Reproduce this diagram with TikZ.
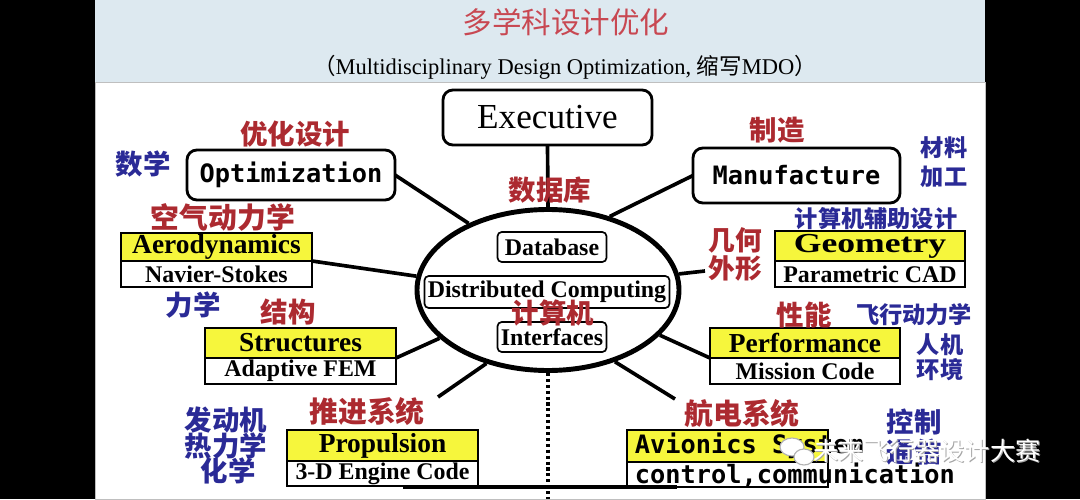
\documentclass[tikz,border=0pt]{standalone}
\usepackage{fontspec}
\usepackage{graphicx}
\setmainfont{Liberation Serif}
\setmonofont{DejaVu Sans Mono}
\newfontfamily\cjk{Noto Sans CJK SC}
\usetikzlibrary{positioning,shapes.geometric}
\definecolor{labred}{RGB}{172,42,48}
\definecolor{labblue}{RGB}{42,42,150}
\definecolor{titlered}{RGB}{200,72,82}
\definecolor{bandblue}{RGB}{221,233,240}
\definecolor{boxyellow}{RGB}{246,246,60}
\newcommand{\fsz}[1]{\fontsize{#1}{#1}\selectfont}
\tikzset{
  redlbl/.style={text=labred,font=\cjk\bfseries\fsz{19.5}},
  bluelbl/.style={text=labblue,font=\cjk\bfseries\fsz{19.5}},
  boxsize/.style 2 args={minimum width=#1*0.025cm,minimum height=#2*0.025cm},
  roundbox/.style={draw,line width=2pt,rounded corners=7pt,inner sep=0pt,outer sep=0pt,font=\ttfamily\bfseries\fsz{18}},
  topbox/.style={draw,line width=1.6pt,fill=boxyellow,inner sep=0pt,outer sep=0pt,font=\bfseries\fsz{19.5}},
  lowbox/.style={draw,line width=1.6pt,fill=white,inner sep=0pt,outer sep=0pt,font=\bfseries\fsz{17}},
  hubbox/.style={draw,line width=1.2pt,rounded corners=3pt,inner sep=0pt,outer sep=0pt,font=\bfseries\fsz{17}},
  spoke/.style={line width=2.6pt}
}
\begin{document}
\begin{tikzpicture}[x=0.025cm,y=-0.025cm]
\fill[black] (0,0) rectangle (1080,499);
\fill[bandblue] (95,0) rectangle (985,82);
\filldraw[fill=white,draw=gray!50] (95,82) rectangle (985,499);
\useasboundingbox (0,0) rectangle (1080,499);
\node[text=titlered,font=\cjk\fsz{21}] (title) at (566,22) {多学科设计优化};
\node[font=\fsz{16}] (subtitle) at (565,67) {{\cjk （}Multidisciplinary Design Optimization, {\cjk 缩写}MDO{\cjk ）}};

% hub in the middle
\node[ellipse,draw,line width=3.5pt,boxsize={262}{161},inner sep=0pt] (hub) at (548,290) {};
\node[hubbox,boxsize={109}{30}] (db) at (552,247) {Database};
\node[hubbox,boxsize={245}{32}] (dist) at (547,292) {Distributed Computing};
\node[hubbox,boxsize={109}{30}] (intf) at (552,337) {Interfaces};

\node[roundbox,boxsize={209}{55},font=\fsz{25}] (exec) at (547.5,117.5) {Executive};
\node[roundbox,boxsize={208}{50}] (opt) at (291,175) {Optimization};
\node[roundbox,boxsize={207}{55}] (manu) at (796.5,175.5) {Manufacture};

% disciplines
\node[topbox,boxsize={191}{28}] (aero) at (216.5,247) {Aerodynamics};
\node[lowbox,boxsize={191}{26},below=0pt of aero] (navier) {Navier-Stokes};
\node[topbox,boxsize={191}{30}] (struct) at (300.5,343) {Structures};
\node[lowbox,boxsize={191}{26},below=0pt of struct] (fem) {Adaptive FEM};
\node[topbox,boxsize={191}{31}] (prop) at (382.5,445.5) {Propulsion};
\node[lowbox,boxsize={191}{25},below=0pt of prop] (engine) {3-D Engine Code};
\node[topbox,boxsize={190}{30}] (geom) at (870,246) {\scalebox{1.3}[1]{Geometry}};
\node[lowbox,boxsize={190}{26},below=0pt of geom] (cad) {Parametric CAD};
\node[topbox,boxsize={190}{30}] (perf) at (805,343) {Performance};
\node[lowbox,boxsize={190}{26},below=0pt of perf] (mission) {Mission Code};
\node[topbox,boxsize={201}{32},font=\ttfamily\bfseries\fsz{18},inner xsep=0.2cm] (avio) at (727.5,446) {\makebox[4.625cm][l]{Avionics System}};
\node[lowbox,boxsize={201}{25},font=\ttfamily\bfseries\fsz{18},inner xsep=0.2cm,below=0pt of avio] (ctrl) {\makebox[4.625cm][l]{control,communication}};

\coordinate (propend) at (438,397);
\coordinate (geoend) at (705,271);
\coordinate (avioend) at (675,399);
\coordinate (dotend) at (548,499);
\coordinate (busl) at (403,487);
\coordinate (busr) at (677,487);

\draw[spoke] (exec.south) -- (hub.north);
\draw[spoke] (opt.east) -- (hub.140);
\draw[spoke] (aero.south east) -- (hub.174);
\draw[spoke] (struct.south east) -- (hub.204);
\draw[spoke] (hub.230) -- (propend);
\draw[spoke] (hub.50) -- (manu.west);
\draw[spoke] (hub.7) -- (geoend);
\draw[spoke] (hub.338) -- (perf.south west);
\draw[spoke] (hub.313) -- (avioend);
\draw[line width=2.2pt,dotted] (hub.south) -- (dotend);
\draw[line width=3.5pt] (busl) -- (busr);

% chinese labels
\node[redlbl] (dblbl) at (550,190) {数据库};
\node[redlbl] (complbl) at (553,313) {计算机};
\node[redlbl] (optlbl) at (295,134) {优化设计};
\node[bluelbl] (mathlbl) at (143,164) {数学};
\node[redlbl,font=\cjk\bfseries\fsz{20.5}] (aerolbl) at (223,217) {空气动力学};
\node[bluelbl] (mechlbl) at (193,305) {力学};
\node[redlbl] (structlbl) at (288,312) {结构};
\node[bluelbl,font=\cjk\bfseries\fsz{19.5}] (eng1) at (226,420) {发动机};
\node[bluelbl,font=\cjk\bfseries\fsz{19.5}] (eng2) at (226,446) {热力学};
\node[bluelbl,font=\cjk\bfseries\fsz{19.5}] (eng3) at (228,471) {化学};
\node[redlbl,font=\cjk\bfseries\fsz{20.5}] (proplbl) at (367,412) {推进系统};
\node[redlbl] (manulbl) at (777,130) {制造};
\node[bluelbl,font=\cjk\bfseries\fsz{16.5}] (mat1) at (944,148) {材料};
\node[bluelbl,font=\cjk\bfseries\fsz{16.5}] (mat2) at (944,177) {加工};
\node[bluelbl,font=\cjk\bfseries\fsz{16.5}] (cadlbl) at (876,219) {计算机辅助设计};
\node[redlbl,font=\cjk\bfseries\fsz{19}] (geo1) at (735,240) {几何};
\node[redlbl,font=\cjk\bfseries\fsz{19}] (geo2) at (735,268) {外形};
\node[redlbl] (perflbl) at (804,315) {性能};
\node[bluelbl,font=\cjk\bfseries\fsz{16.5}] (flight) at (914,315) {飞行动力学};
\node[bluelbl,font=\cjk\bfseries\fsz{16.5}] (hm1) at (940,345) {人机};
\node[bluelbl,font=\cjk\bfseries\fsz{16.5}] (hm2) at (940,370) {环境};
\node[redlbl,font=\cjk\bfseries\fsz{20.5}] (aviolbl) at (742,414) {航电系统};
\node[bluelbl] (ctl1) at (914,422) {控制};
\node[bluelbl] (ctl2) at (914,452) {通信};

% watermark
\filldraw[fill=white,draw=gray!60,line width=0.8pt] (792,447) ellipse [x radius=12,y radius=9];
\filldraw[fill=white,draw=gray!60,line width=0.8pt] (804,457) ellipse [x radius=10,y radius=8];
\node[text=gray!70,font=\cjk\fsz{18}] (wmshadow) at (928,452) {未来飞行器设计大赛};
\node[text=white,font=\cjk\fsz{18}] (wm) at (927,451) {未来飞行器设计大赛};
\end{tikzpicture}
\end{document}
